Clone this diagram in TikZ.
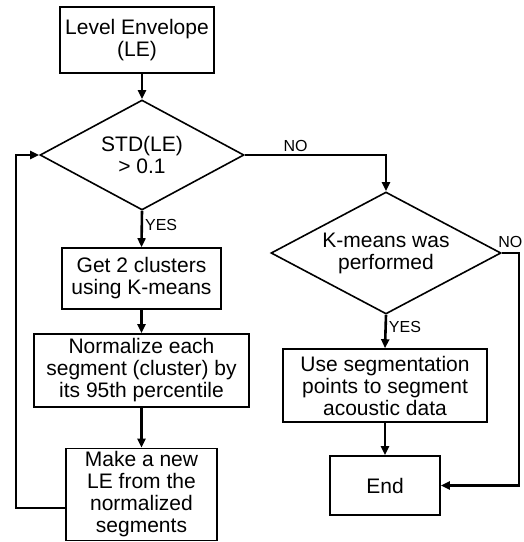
\documentclass[tikz,border=0pt]{standalone}
\usepackage{fontspec}
\setmainfont{Liberation Sans}
\usetikzlibrary{shapes.geometric,arrows.meta}
\begin{document}
\begin{tikzpicture}[x=1pt,y=-1pt,
  box/.style={draw,line width=1.6pt,align=center,inner sep=0pt,font=\fontsize{21}{22}\selectfont},
  dec/.style={draw,diamond,line width=1.6pt,align=center,inner sep=0pt,font=\fontsize{21}{22}\selectfont},
  conn/.style={line width=2.6pt,-{Triangle[length=9pt,width=8pt]}},
  lbl/.style={font=\fontsize{16}{18}\selectfont,inner sep=2pt}]
\useasboundingbox (0,0) rectangle (524,542);
\node[box,minimum width=154pt,minimum height=66pt] (le) at (137,40) {Level Envelope\\(LE)};
\node[dec,aspect=1.855,minimum width=204pt,minimum height=110pt] (d1) at (142,155) {STD(LE)\\> 0.1};
\node[box,minimum width=159pt,minimum height=61pt] (g) at (141.5,278.5) {Get 2 clusters\\using K-means};
\node[box,minimum width=215pt,minimum height=73pt] (n) at (141.5,370.5) {Normalize each\\segment (cluster) by\\its 95th percentile};
\node[box,minimum width=151pt,minimum height=92pt] (m) at (141.5,494.5) {Make a new\\LE from the\\normalized\\segments};
\node[dec,aspect=1.885,minimum width=230pt,minimum height=122pt] (d2) at (386,253) {K-means was\\performed};
\node[box,minimum width=204pt,minimum height=73pt] (u) at (385,385.5) {Use segmentation\\points to segment\\acoustic data};
\node[box,minimum width=110pt,minimum height=59pt] (e) at (385,485.5) {End};
\coordinate (loopa) at (16,508);
\coordinate (nob) at (519,253);
\draw[conn] (le.south -| d1.north) -- (d1.north);
\draw[conn] (d1.south) -- node[lbl,pos=0.4,right]{YES} (g.north);
\draw[conn] (g.south) -- (n.north);
\draw[conn] (n.south) -- (m.north);
\draw[conn] (m.west |- loopa) -- (loopa) -- (loopa |- d1.west) -- (d1.west);
\draw[conn] (d1.east) -- node[lbl,pos=0.36,above]{NO} (d1.east -| d2.north) -- (d2.north);
\draw[conn] (d2.south) -- node[lbl,pos=0.35,right]{YES} (u.north);
\draw[conn] (u.south) -- (e.north);
\draw[conn] (d2.east) -- node[lbl,midway,above,yshift=2pt]{NO} (nob) -- (nob |- e.east) -- (e.east);
\end{tikzpicture}
\end{document}
